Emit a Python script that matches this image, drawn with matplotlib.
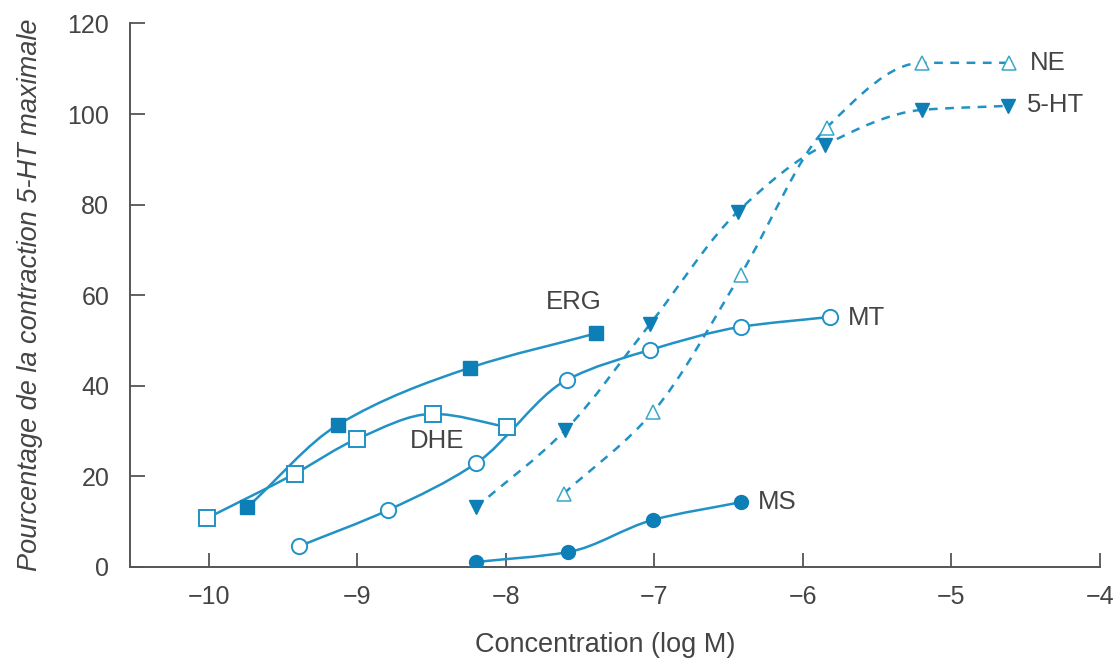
import matplotlib
matplotlib.use("Agg")
import matplotlib.pyplot as plt
import numpy as np
from matplotlib.path import Path
from matplotlib.patches import PathPatch

# ---------------- data ----------------
erg_x = [-9.74, -9.13, -8.24, -7.39]
erg_y = [13.2, 31.4, 44.0, 51.6]
dhe_x = [-10.01, -9.42, -9.00, -8.49, -7.99]
dhe_y = [10.8, 20.6, 28.3, 33.8, 30.9]
mt_x = [-9.39, -8.79, -8.20, -7.59, -7.03, -6.42, -5.82]
mt_y = [4.6, 12.6, 22.9, 41.3, 47.9, 53.0, 55.2]
ms_x = [-8.20, -7.58, -7.01, -6.42]
ms_y = [1.1, 3.3, 10.4, 14.3]
ht_x = [-8.20, -7.60, -7.03, -6.44, -5.85, -5.20, -4.62]
ht_y = [13.2, 30.2, 53.6, 78.4, 93.2, 100.9, 101.8]
ne_x = [-7.61, -7.01, -6.42, -5.84, -5.20, -4.61]
ne_y = [16.2, 34.2, 64.5, 97.0, 111.3, 111.3]

x_ticks = [-10, -9, -8, -7, -6, -5, -4]
y_ticks = [0, 20, 40, 60, 80, 100, 120]

LINE = '#2192c6'
FILL = '#0d7fb6'
TXT = '#444444'

plt.rcParams['font.family'] = ['Liberation Sans', 'DejaVu Sans']

fig = plt.figure(figsize=(11.13, 6.6), dpi=100)
ax = fig.add_axes([130/1113, 1-567/660, (1100-130)/1113, (567-23.4)/660])


def smooth_path(xs, ys):
    """Monotone cubic (Fritsch-Carlson) through the points, as Bezier segments."""
    x = np.asarray(xs, float)
    y = np.asarray(ys, float)
    n = len(x)
    h = np.diff(x)
    d = np.diff(y) / h
    m = np.zeros(n)
    m[0] = d[0]
    m[-1] = d[-1]
    for i in range(1, n - 1):
        if d[i - 1] * d[i] <= 0:
            m[i] = 0.0
        else:
            w1 = 2 * h[i] + h[i - 1]
            w2 = h[i] + 2 * h[i - 1]
            m[i] = (w1 + w2) / (w1 / d[i - 1] + w2 / d[i])
    verts = [(x[0], y[0])]
    codes = [Path.MOVETO]
    for i in range(n - 1):
        verts += [(x[i] + h[i] / 3, y[i] + m[i] * h[i] / 3),
                  (x[i + 1] - h[i] / 3, y[i + 1] - m[i + 1] * h[i] / 3),
                  (x[i + 1], y[i + 1])]
        codes += [Path.CURVE4] * 3
    return Path(verts, codes)


def curve(xs, ys, dashed=False):
    kw = dict(facecolor='none', edgecolor=LINE, lw=1.8, zorder=2)
    if dashed:
        kw['linestyle'] = (0, (3.5, 3.0))
    ax.add_patch(PathPatch(smooth_path(xs, ys), **kw))


curve(erg_x, erg_y)
curve(dhe_x, dhe_y)
curve(mt_x, mt_y)
curve(ms_x, ms_y)
curve(ht_x, ht_y, dashed=True)
curve(ne_x, ne_y, dashed=True)

ax.plot(erg_x, erg_y, ls='none', marker='s', ms=10, mfc=FILL, mec=FILL, zorder=3)
ax.plot(dhe_x, dhe_y, ls='none', marker='s', ms=11, mfc='white', mec=LINE, mew=1.4, zorder=3)
ax.plot(mt_x, mt_y, ls='none', marker='o', ms=11, mfc='white', mec=LINE, mew=1.4, zorder=3)
ax.plot(ms_x, ms_y, ls='none', marker='o', ms=10, mfc=FILL, mec=FILL, zorder=3)
ax.plot(ht_x, ht_y, ls='none', marker='v', ms=10, mfc=FILL, mec=FILL, zorder=3)
ax.plot(ne_x, ne_y, ls='none', marker='^', ms=10, mfc='white', mec='#3aa7c8', mew=1.1, zorder=3)

fs = 18.5
ax.text(-7.54, 58.6, 'ERG', fontsize=fs, color=TXT, ha='center', va='center')
ax.text(-8.46, 27.8, 'DHE', fontsize=fs, color=TXT, ha='center', va='center')
ax.text(-5.70, 55.0, 'MT', fontsize=fs, color=TXT, ha='left', va='center')
ax.text(-6.30, 14.3, 'MS', fontsize=fs, color=TXT, ha='left', va='center')
ax.text(-4.47, 111.3, 'NE', fontsize=fs, color=TXT, ha='left', va='center')
ax.text(-4.49, 102.0, '5-HT', fontsize=fs, color=TXT, ha='left', va='center')

ax.set_xlim(-10.53, -4)
ax.set_ylim(0, 120)
ax.set_xticks(x_ticks)
ax.set_xticklabels(['\u2212' + str(abs(t)) for t in x_ticks])
ax.set_yticks(y_ticks)
ax.set_yticklabels([str(t) for t in y_ticks])

for s in ['top', 'right']:
    ax.spines[s].set_visible(False)
for s in ['left', 'bottom']:
    ax.spines[s].set_color('#555555')
    ax.spines[s].set_linewidth(1.4)

ax.tick_params(axis='x', direction='in', length=10, width=1.3, colors='#555555',
               labelcolor=TXT, labelsize=18, pad=13)
ax.tick_params(axis='y', direction='in', length=11, width=1.3, colors='#555555',
               labelcolor=TXT, labelsize=18, pad=15)

fig.text(30/1113, 1-295/660, 'Pourcentage de la contraction 5-HT maximale',
         rotation=90, fontsize=19.5, color=TXT, style='italic', ha='center', va='center')
fig.text(605/1113, 1-645/660, 'Concentration (log M)', fontsize=19.5, color=TXT,
         ha='center', va='center')

fig.savefig('out.png', dpi=100)
